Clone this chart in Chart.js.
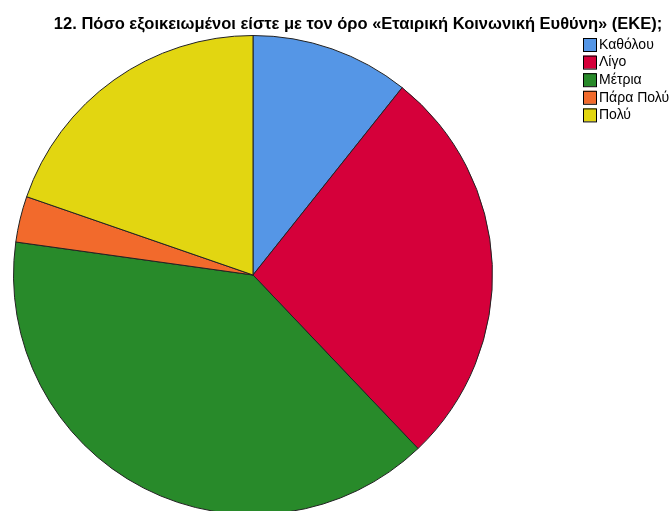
<!DOCTYPE html>
<html>
<head>
<meta charset="utf-8">
<script src="https://cdn.jsdelivr.net/npm/chart.js@4/dist/chart.umd.min.js"></script>
<style>
  html, body { margin: 0; padding: 0; background: #fff; }
  #wrap { width: 670px; height: 511px; overflow: hidden; position: relative; }
</style>
</head>
<body>
<div id="wrap"><canvas id="pie" width="670" height="530"></canvas></div>
<script>
// answers to question 12, share of respondents (%)
const titleText = '12. Πόσο εξοικειωμένοι είστε με τον όρο «Εταιρική Κοινωνική Ευθύνη» (ΕΚΕ);';
const categories = ['Καθόλου', 'Λίγο', 'Μέτρια', 'Πάρα Πολύ', 'Πολύ'];
const percentages = [10.7, 27.2, 39.3, 3.1, 19.7];
const sliceColors = ['#5596E6', '#D5003A', '#288A2A', '#F26A2C', '#E2D611'];

// title + legend drawn on top, the pie itself fills the padded area
const overlay = {
    id: 'overlay',
    afterDraw: function(chart) {
        const ctx = chart.ctx;
        ctx.save();
        ctx.fillStyle = '#000';
        ctx.font = 'bold 16.5px "Liberation Sans", Arial, sans-serif';
        ctx.textAlign = 'center';
        ctx.textBaseline = 'alphabetic';
        ctx.fillText(titleText, 358, 29);

        ctx.font = '14px "Liberation Sans", Arial, sans-serif';
        ctx.textAlign = 'left';
        ctx.textBaseline = 'middle';
        const ds = chart.data.datasets[0];
        chart.data.labels.forEach(function(label, i) {
            const y = 38 + i * 17.6;
            ctx.fillStyle = ds.backgroundColor[i];
            ctx.fillRect(583, y, 13, 13);
            ctx.strokeStyle = '#000';
            ctx.lineWidth = 1;
            ctx.strokeRect(583.5, y + 0.5, 13, 13);
            ctx.fillStyle = '#000';
            ctx.fillText(label, 599, y + 7);
        });
        ctx.restore();
    }
};

new Chart(document.getElementById('pie'), {
    type: 'pie',
    data: {
        labels: categories,
        datasets: [{
            data: percentages,
            backgroundColor: sliceColors,
            borderColor: '#222',
            borderWidth: 1
        }]
    },
    options: {
        responsive: false,
        animation: false,
        events: [],
        layout: { padding: { left: 13, top: 35, right: 177, bottom: 15 } },
        plugins: {
            legend: { display: false },
            title: { display: false },
            tooltip: { enabled: false }
        }
    },
    plugins: [overlay]
});
</script>
</body>
</html>
